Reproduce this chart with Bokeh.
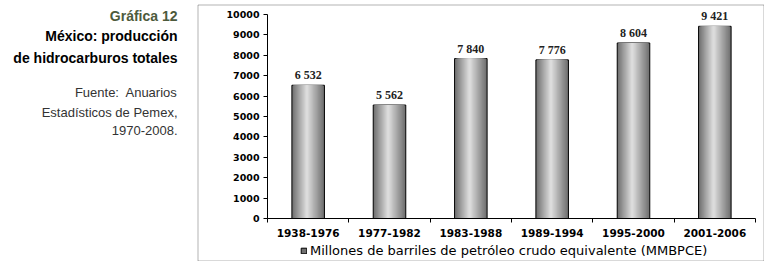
from bokeh.plotting import figure
from bokeh.models import (ColumnDataSource, FixedTicker, Label, BoxAnnotation,
                          Legend, LegendItem, Range1d, LinearAxis)
from bokeh.transform import dodge
from bokeh.core.properties import value
from bokeh.embed import file_html
from bokeh.resources import INLINE

# ---- data ----
periods = ["1938-1976", "1977-1982", "1983-1988", "1989-1994", "1995-2000", "2001-2006"]
production = [6532, 5562, 7840, 7776, 8604, 9421]
y_ticks = [0, 1000, 2000, 3000, 4000, 5000, 6000, 7000, 8000, 9000, 10000]
legend_label = "Millones de barriles de petróleo crudo equivalente (MMBPCE)"
title_lines = ["Gráfica 12", "México: producción", "de hidrocarburos totales"]
source_lines = ["Fuente:\u00a0 Anuarios", "Estadísticos de Pemex,", "1970-2008."]

n = len(periods)
xs = [i + 0.5 for i in range(n)]
labels = ["{:,}".format(v).replace(",", " ") for v in production]
src = ColumnDataSource(dict(x=xs, top=production, lab=labels))

# ---- layout geometry (pixels on the canvas) ----
W, H = 764, 261
AX_L, AX_R, AX_T, AX_B = 267, 755, 14, 218   # plotting area for data
YMAX = y_ticks[-1]
ppx = (AX_R - AX_L) / n            # px per category
ppy = (AX_B - AX_T) / YMAX         # px per unit


def dx(px):
    return (px - AX_L) / ppx


def dy(py):
    return (AX_B - py) / ppy


p = figure(width=W, height=H, output_backend="svg", toolbar_location=None,
           x_range=Range1d(dx(0), dx(W)), y_range=Range1d(dy(H), dy(0)),
           x_axis_location=None, y_axis_location=None,
           min_border=0)
p.outline_line_color = None
p.xgrid.visible = False
p.ygrid.visible = False
p.background_fill_color = "white"
p.border_fill_color = "white"

# outer box
p.add_layout(BoxAnnotation(left=dx(197.5), right=dx(763.5), top=dy(4.5), bottom=dy(260.5),
                           fill_alpha=0, line_color="black", line_width=1,
                           level="underlay"))

# bars with simulated cylinder gradient
BW = 0.4
N = 14
outer = None
for i in range(N):
    t = i / (N - 1)
    w = BW * (1 - i / N)
    c = int(round(0x70 + (0xdc - 0x70) * t))
    col = "#%02x%02x%02x" % (c, c, c)
    off = -0.04 * BW * (i / N)
    r = p.vbar(x=dodge("x", off), top="top", bottom=0, width=w, source=src,
               fill_color=col,
               line_color="black" if i == 0 else None, line_width=1)
    if i == 0:
        outer = r

# value labels
p.text(x="x", y="top", text="lab", source=src, y_offset=-10,
       text_align="center", text_baseline="alphabetic",
       text_font=value("Liberation Serif"), text_font_style="bold",
       text_font_size="12px", text_color="#222222")

# axes
yaxis = LinearAxis(fixed_location=0, bounds=(0, YMAX),
                   ticker=FixedTicker(ticks=y_ticks))
yaxis.axis_line_color = "black"
yaxis.major_tick_line_color = "black"
yaxis.major_tick_in = 0
yaxis.major_tick_out = 4
yaxis.minor_tick_line_color = None
yaxis.major_label_standoff = 4
yaxis.major_label_text_font = "DejaVu Sans"
yaxis.major_label_text_font_style = "bold"
yaxis.major_label_text_font_size = "9.5px"
yaxis.major_label_text_color = "black"
p.add_layout(yaxis, "left")

xaxis = LinearAxis(fixed_location=0, bounds=(0, n),
                   ticker=FixedTicker(ticks=xs, minor_ticks=list(range(n + 1))))
xaxis.major_label_overrides = {x: lab for x, lab in zip(xs, periods)}
xaxis.axis_line_color = "black"
xaxis.major_tick_line_color = None
xaxis.major_tick_in = 0
xaxis.major_tick_out = 0
xaxis.minor_tick_line_color = "black"
xaxis.minor_tick_in = 0
xaxis.minor_tick_out = 4
xaxis.major_label_standoff = 6
xaxis.major_label_text_font = "DejaVu Sans"
xaxis.major_label_text_font_style = "bold"
xaxis.major_label_text_font_size = "10.5px"
xaxis.major_label_text_color = "black"
p.add_layout(xaxis, "below")

# legend
leg = Legend(items=[LegendItem(label=legend_label, renderers=[outer])],
             location=(300, 3), orientation="horizontal",
             glyph_width=7, glyph_height=7, label_height=12, label_width=10,
             padding=0, margin=0, spacing=0,
             label_standoff=3, border_line_color=None,
             background_fill_alpha=0, label_text_font="DejaVu Sans",
             label_text_font_size="13px", label_text_color="black",
             label_text_baseline="middle")
p.add_layout(leg)

# left side text
title_y = [15, 35, 57]
for txt, yy, colr in zip(title_lines, title_y, ["#4d5a3c", "black", "black"]):
    p.add_layout(Label(x=dx(177), y=dy(yy), text=txt, text_align="right",
                       text_baseline="middle",
                       text_font="Liberation Sans", text_font_style="bold",
                       text_font_size="14px", text_color=colr))
src_y = [92, 112, 130]
for txt, yy in zip(source_lines, src_y):
    p.add_layout(Label(x=dx(177), y=dy(yy), text=txt, text_align="right",
                       text_baseline="middle",
                       text_font="Liberation Sans", text_font_size="13px",
                       text_color="#333333"))

open("out.html", "w").write(file_html(p, INLINE))
